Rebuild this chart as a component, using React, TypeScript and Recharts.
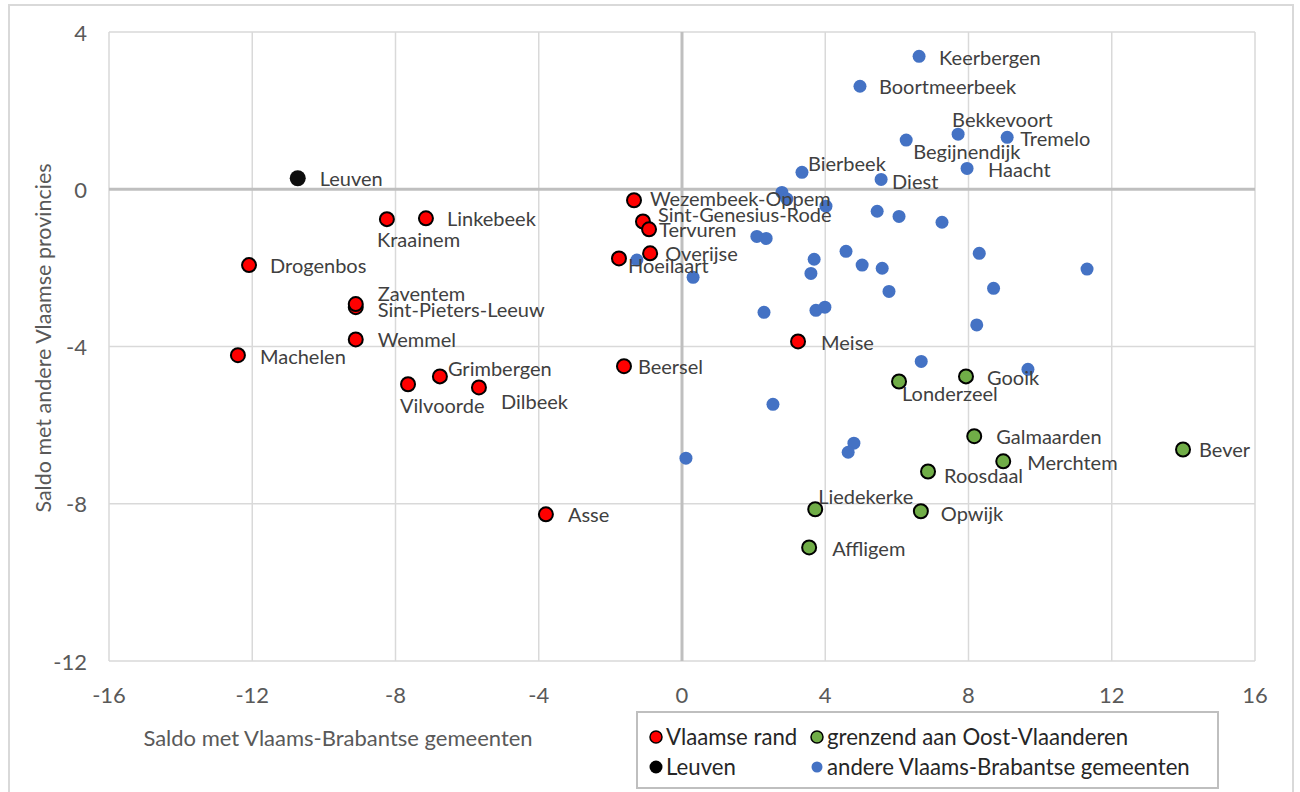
import React from 'react';
import { ScatterChart, Scatter, XAxis, YAxis, CartesianGrid, ReferenceLine } from 'recharts';

// ---- DATA ----
const vlaamseRand = [
  { name: 'Wezembeek-Oppem', x: -1.34, y: -0.28 },
  { name: 'Sint-Genesius-Rode', x: -1.09, y: -0.82 },
  { name: 'Tervuren', x: -0.92, y: -1.02 },
  { name: 'Overijse', x: -0.89, y: -1.63 },
  { name: 'Hoeilaart', x: -1.76, y: -1.76 },
  { name: 'Beersel', x: -1.62, y: -4.5 },
  { name: 'Meise', x: 3.24, y: -3.87 },
  { name: 'Kraainem', x: -8.24, y: -0.76 },
  { name: 'Linkebeek', x: -7.15, y: -0.74 },
  { name: 'Drogenbos', x: -12.09, y: -1.93 },
  { name: 'Sint-Pieters-Leeuw', x: -9.11, y: -3.0 },
  { name: 'Zaventem', x: -9.11, y: -2.92 },
  { name: 'Wemmel', x: -9.11, y: -3.82 },
  { name: 'Machelen', x: -12.4, y: -4.22 },
  { name: 'Grimbergen', x: -6.76, y: -4.76 },
  { name: 'Vilvoorde', x: -7.65, y: -4.96 },
  { name: 'Dilbeek', x: -5.67, y: -5.04 },
  { name: 'Asse', x: -3.8, y: -8.27 },
];

const grenzendOostVlaanderen = [
  { name: 'Londerzeel', x: 6.06, y: -4.89 },
  { name: 'Gooik', x: 7.93, y: -4.76 },
  { name: 'Galmaarden', x: 8.16, y: -6.28 },
  { name: 'Merchtem', x: 8.97, y: -6.92 },
  { name: 'Bever', x: 13.99, y: -6.62 },
  { name: 'Roosdaal', x: 6.87, y: -7.18 },
  { name: 'Liedekerke', x: 3.72, y: -8.14 },
  { name: 'Opwijk', x: 6.67, y: -8.19 },
  { name: 'Affligem', x: 3.55, y: -9.11 },
];

const leuven = [{ name: 'Leuven', x: -10.73, y: 0.28 }];

const andereGemeenten = [
  { name: 'Keerbergen', x: 6.62, y: 3.38 },
  { name: 'Boortmeerbeek', x: 4.97, y: 2.62 },
  { name: 'Bekkevoort', x: 7.71, y: 1.4 },
  { name: 'Tremelo', x: 9.08, y: 1.32 },
  { name: 'Begijnendijk', x: 6.26, y: 1.25 },
  { name: 'Haacht', x: 7.96, y: 0.53 },
  { name: 'Bierbeek', x: 3.35, y: 0.43 },
  { name: 'Diest', x: 5.56, y: 0.25 },
  { name: '', x: 2.79, y: -0.08 },
  { name: '', x: 2.93, y: -0.25 },
  { name: '', x: 4.02, y: -0.43 },
  { name: '', x: 5.45, y: -0.56 },
  { name: '', x: 6.06, y: -0.69 },
  { name: '', x: 7.26, y: -0.84 },
  { name: '', x: 2.09, y: -1.2 },
  { name: '', x: 2.35, y: -1.25 },
  { name: '', x: 4.58, y: -1.58 },
  { name: '', x: 8.3, y: -1.63 },
  { name: '', x: -1.26, y: -1.8 },
  { name: '', x: 3.69, y: -1.78 },
  { name: '', x: 5.03, y: -1.93 },
  { name: '', x: 5.59, y: -2.01 },
  { name: '', x: 11.31, y: -2.03 },
  { name: '', x: 3.6, y: -2.14 },
  { name: '', x: 0.31, y: -2.24 },
  { name: '', x: 8.7, y: -2.52 },
  { name: '', x: 5.78, y: -2.6 },
  { name: '', x: 3.99, y: -3.0 },
  { name: '', x: 3.74, y: -3.08 },
  { name: '', x: 2.29, y: -3.13 },
  { name: '', x: 8.23, y: -3.45 },
  { name: '', x: 6.68, y: -4.38 },
  { name: '', x: 9.66, y: -4.58 },
  { name: '', x: 2.54, y: -5.47 },
  { name: '', x: 4.8, y: -6.46 },
  { name: '', x: 4.64, y: -6.69 },
  { name: '', x: 0.11, y: -6.84 },
];

const xTicks = [-16, -12, -8, -4, 0, 4, 8, 12, 16];
const yTicks = [4, 0, -4, -8, -12];

const seriesNames = {
  rand: 'Vlaamse rand',
  oost: 'grenzend aan Oost-Vlaanderen',
  leuven: 'Leuven',
  andere: 'andere Vlaams-Brabantse gemeenten',
};

const xTitle = 'Saldo met Vlaams-Brabantse gemeenten';
const yTitle = 'Saldo met andere Vlaamse provincies';

// ---- LABEL PLACEMENT (offset of text start / vertical centre from marker) ----
const labelOffset: Record<string, [number, number]> = {
  Keerbergen: [20, 1],
  Boortmeerbeek: [19, 0],
  Bekkevoort: [-6, -15],
  Tremelo: [13, 1],
  Begijnendijk: [7, 11],
  Haacht: [21, 1],
  Bierbeek: [6, -9],
  Diest: [11, 2],
  'Wezembeek-Oppem': [16, -2],
  'Sint-Genesius-Rode': [15, -7],
  Tervuren: [10, 0],
  Overijse: [15, 0],
  Hoeilaart: [9, 7],
  Beersel: [14, 0],
  Meise: [23, 1],
  Leuven: [22, 0],
  Kraainem: [-10, 20],
  Linkebeek: [21, 0],
  Drogenbos: [21, 0],
  Zaventem: [22, -11],
  'Sint-Pieters-Leeuw': [22, 2],
  Wemmel: [22, 0],
  Machelen: [22, 1],
  Grimbergen: [8, -8],
  Vilvoorde: [-8, 21],
  Dilbeek: [22, 14],
  Asse: [22, 0],
  Londerzeel: [3, 12],
  Gooik: [21, 1],
  Galmaarden: [22, 0],
  Merchtem: [24, 1],
  Bever: [16, 0],
  Roosdaal: [16, 3],
  Liedekerke: [3, -13],
  Opwijk: [20, 2],
  Affligem: [23, 1],
};

const FONT = 'Lato, "Noto Sans", sans-serif';
const TEXT_GREY = '#595959';
const LABEL_GREY = '#404040';

const outlined = (fill: string) => (props: any) => {
  const { cx, cy } = props;
  if (cx == null || cy == null) return <g />;
  return <circle cx={cx} cy={cy} r={7} fill={fill} stroke="#000" strokeWidth={2} />;
};

const plain = (fill: string, r: number) => (props: any) => {
  const { cx, cy } = props;
  if (cx == null || cy == null) return <g />;
  return <circle cx={cx} cy={cy} r={r} fill={fill} />;
};

const labelShape = (props: any) => {
  const { cx, cy, payload } = props;
  const name = payload?.name;
  if (!name || cx == null) return <g />;
  const off = labelOffset[name] || [20, 0];
  return (
    <text
      x={cx + off[0]}
      y={cy + off[1]}
      dominantBaseline="central"
      fontFamily={FONT}
      fontSize={20}
      fill={LABEL_GREY}
    >
      {name}
    </text>
  );
};

const XTick = (props: any) => {
  const { x, payload } = props;
  return (
    <text x={x} y={694} textAnchor="middle" dominantBaseline="central" fontFamily={FONT} fontSize={22} fill={TEXT_GREY}>
      {payload.value}
    </text>
  );
};

const YTick = (props: any) => {
  const { y, payload } = props;
  return (
    <text x={87} y={y} textAnchor="end" dominantBaseline="central" fontFamily={FONT} fontSize={22} fill={TEXT_GREY}>
      {payload.value}
    </text>
  );
};

const LegendBox = () => {
  const item = (marker: React.ReactNode, text: string, left: number, top: number) => (
    <div style={{ position: 'absolute', left, top, height: 24, display: 'flex', alignItems: 'center' }}>
      <svg width={16} height={16} style={{ marginRight: 2 }}>{marker}</svg>
      <span style={{ fontFamily: FONT, fontSize: 22.2, color: '#262626', whiteSpace: 'nowrap', lineHeight: '24px' }}>{text}</span>
    </div>
  );
  return (
    <div style={{ position: 'absolute', left: 636, top: 711, width: 583, height: 78, border: '2px solid #bfbfbf', boxSizing: 'border-box', background: '#fff' }}>
      {item(<circle cx={8} cy={8} r={6} fill="#ff0000" stroke="#000" strokeWidth={1.5} />, seriesNames.rand, 10, 12)}
      {item(<circle cx={8} cy={8} r={6} fill="#70ad47" stroke="#000" strokeWidth={1.5} />, seriesNames.oost, 171, 12)}
      {item(<circle cx={8} cy={8} r={6.5} fill="#000" />, seriesNames.leuven, 10, 42)}
      {item(<circle cx={8} cy={8} r={5.5} fill="#4472c4" />, seriesNames.andere, 171, 42)}
    </div>
  );
};

export default function App() {
  return (
    <div style={{ position: 'fixed', left: 0, top: 0, width: 1300, height: 792, overflow: 'hidden', background: '#fff' }}>
      <div style={{ position: 'absolute', left: 8, top: 4, width: 1286, height: 800, border: '2px solid #d9d9d9', borderBottom: 'none', boxSizing: 'border-box' }} />
      <div style={{ position: 'absolute', left: 0, top: 0 }}>
        <ScatterChart width={1300} height={792} margin={{ top: 32, right: 45, bottom: 91, left: 49 }}>
          <CartesianGrid stroke="#d9d9d9" strokeWidth={1.5} />
          <XAxis
            type="number"
            dataKey="x"
            domain={[-16, 16]}
            ticks={xTicks}
            interval={0}
            height={40}
            axisLine={false}
            tickLine={false}
            tick={<XTick />}
            allowDataOverflow
          />
          <YAxis
            type="number"
            dataKey="y"
            domain={[-12, 4]}
            ticks={yTicks}
            interval={0}
            width={60}
            axisLine={false}
            tickLine={false}
            tick={<YTick />}
            allowDataOverflow
          />
          <ReferenceLine x={0} stroke="#bfbfbf" strokeWidth={3} />
          <ReferenceLine y={0} stroke="#bfbfbf" strokeWidth={3} />
          <Scatter name={seriesNames.rand} data={vlaamseRand} fill="#ff0000" shape={outlined('#ff0000')} isAnimationActive={false} />
          <Scatter name={seriesNames.oost} data={grenzendOostVlaanderen} fill="#70ad47" shape={outlined('#70ad47')} isAnimationActive={false} />
          <Scatter name={seriesNames.leuven} data={leuven} fill="#000" shape={plain('#0d0d0d', 8)} isAnimationActive={false} />
          <Scatter name={seriesNames.andere} data={andereGemeenten} fill="#4472c4" shape={plain('#4472c4', 6.5)} isAnimationActive={false} />
          <Scatter data={vlaamseRand} shape={labelShape} legendType="none" isAnimationActive={false} />
          <Scatter data={grenzendOostVlaanderen} shape={labelShape} legendType="none" isAnimationActive={false} />
          <Scatter data={leuven} shape={labelShape} legendType="none" isAnimationActive={false} />
          <Scatter data={andereGemeenten} shape={labelShape} legendType="none" isAnimationActive={false} />
          <text x={338} y={737} textAnchor="middle" dominantBaseline="central" fontFamily={FONT} fontSize={22} fill={TEXT_GREY}>
            {xTitle}
          </text>
          <text
            x={43}
            y={338}
            textAnchor="middle"
            dominantBaseline="central"
            fontFamily={FONT}
            fontSize={21.5}
            fill={TEXT_GREY}
            transform="rotate(-90 43 338)"
          >
            {yTitle}
          </text>
        </ScatterChart>
      </div>
      <LegendBox />
    </div>
  );
}
